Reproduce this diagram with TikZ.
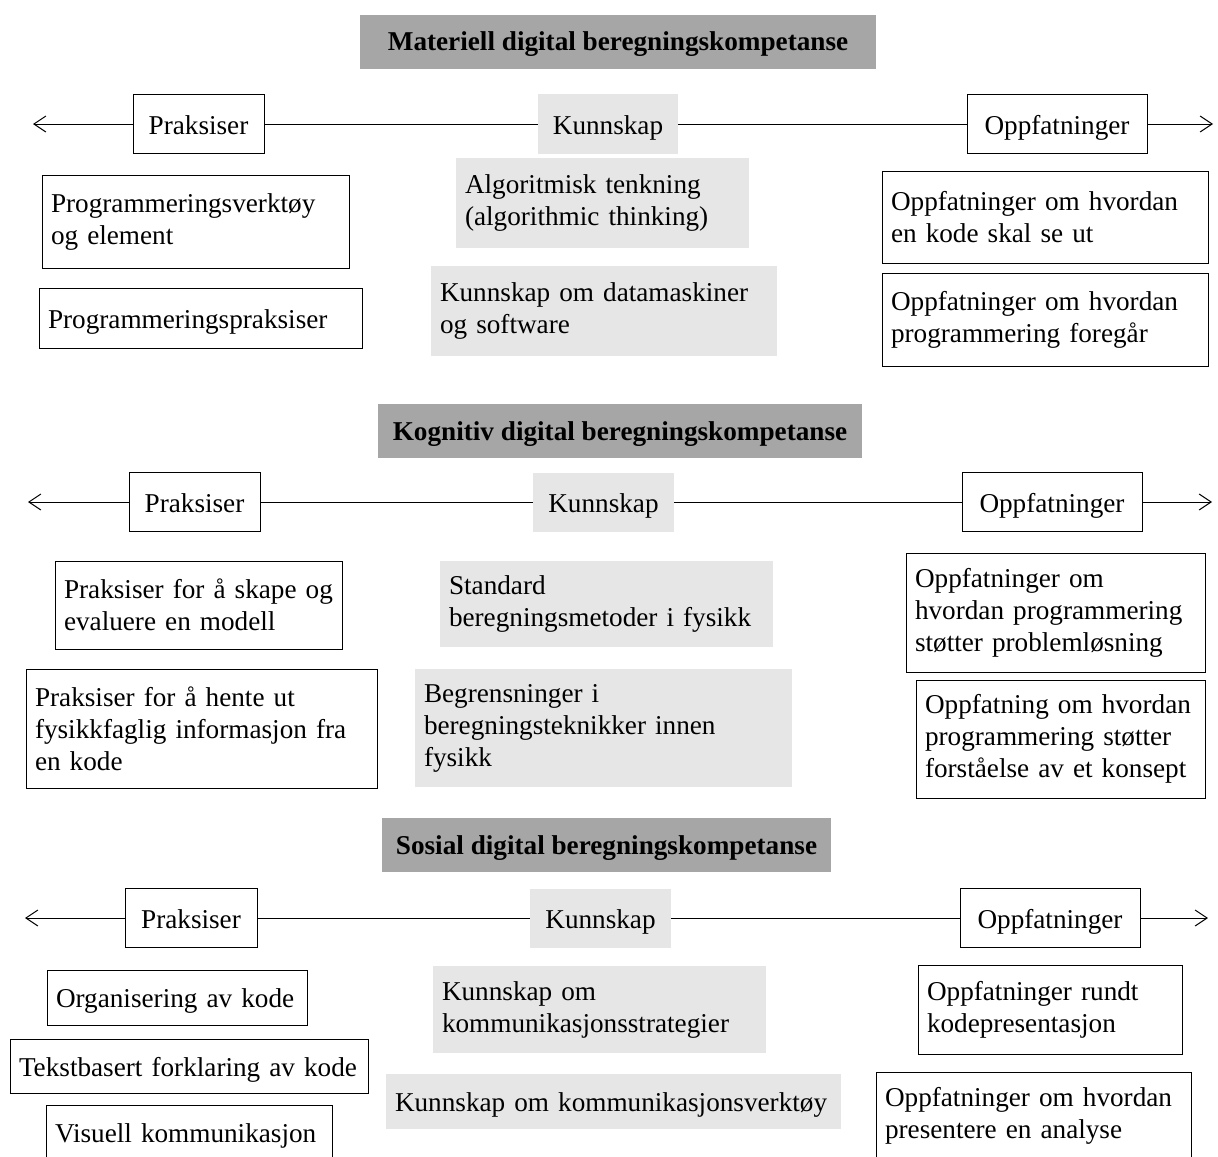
\documentclass[tikz,border=0pt]{standalone}
\usepackage{fontspec}
\setmainfont{Liberation Serif}
\usetikzlibrary{arrows.meta}
\definecolor{titlegray}{HTML}{A6A6A6}
\definecolor{kgray}{HTML}{E6E6E6}
\tikzset{
  txt/.style={font=\fontsize{13.6pt}{16pt}\selectfont, inner sep=0pt},
  oneline/.style={text height=11pt, text depth=1pt},
  head/.style={txt, oneline, draw, line width=0.5pt, minimum height=29.5pt},
  kuhead/.style={txt, oneline, fill=kgray, minimum height=29.5pt},
  titlebox/.style={fill=titlegray, inner sep=0pt, font=\fontsize{13.6pt}{16pt}\selectfont\bfseries, text height=10.5pt, text depth=1.5pt, minimum height=27pt},
  obox/.style={txt, draw, line width=0.5pt, align=left, inner xsep=4.5pt},
  kbox/.style={txt, fill=kgray, align=left, inner xsep=4.5pt},
  axis/.style={line width=0.5pt},
  tip/.style={-{Straight Barb[length=6pt,width=8pt]}}
}
\begin{document}
\begin{tikzpicture}[x=0.5pt,y=-0.5pt]
\useasboundingbox (0,0) rectangle (1218,1156);

% Materiell
\node[titlebox, minimum width=258pt] (t1) at (618,42) {Materiell digital beregningskompetanse};
\node[head, minimum width=65.5pt] (p1) at (198.5,124) {Praksiser};
\node[kuhead, minimum width=70pt] (k1) at (608,124) {Kunnskap};
\node[head, minimum width=90pt] (o1) at (1057,124) {Oppfatninger};
\coordinate (l1) at (33,124);
\coordinate (r1) at (1213,124);
\draw[axis,tip] (p1) -- (l1);
\draw[axis] (p1) -- (k1) -- (o1);
\draw[axis,tip] (o1) -- (r1);
\node[obox, text width=144.5pt, minimum height=46.5pt] (p1a) at (195.5,221.5) {Programmeringsverktøy\\og element};
\node[obox, oneline, text width=152.5pt, minimum height=30pt] (p1b) at (200.5,318) {Programmeringspraksiser};
\node[kbox, text width=137.5pt, minimum height=45pt] (k1a) at (602.5,203) {Algoritmisk tenkning\\(algorithmic thinking)};
\node[kbox, text width=164pt, minimum height=45pt] (k1b) at (604,311) {Kunnskap om datamaskiner\\og software};
\node[obox, text width=154pt, minimum height=46pt] (o1a) at (1045,217) {Oppfatninger om hvordan\\en kode skal se ut};
\node[obox, text width=154pt, minimum height=46.5pt] (o1b) at (1045,319.5) {Oppfatninger om hvordan\\programmering foregår};

% Kognitiv
\node[titlebox, minimum width=242pt] (t2) at (620,431) {Kognitiv digital beregningskompetanse};
\node[head, minimum width=65.5pt] (p2) at (194.5,502) {Praksiser};
\node[kuhead, minimum width=70.5pt] (k2) at (603.5,502) {Kunnskap};
\node[head, minimum width=90pt] (o2) at (1052,502) {Oppfatninger};
\coordinate (l2) at (28,502);
\coordinate (r2) at (1212,502);
\draw[axis,tip] (p2) -- (l2);
\draw[axis] (p2) -- (k2) -- (o2);
\draw[axis,tip] (o2) -- (r2);
\node[obox, text width=134.5pt, minimum height=44pt] (p2a) at (198.5,605) {Praksiser for å skape og\\evaluere en modell};
\node[obox, text width=166.5pt, minimum height=59.5pt] (p2b) at (201.5,728.5) {Praksiser for å hente ut\\fysikkfaglig informasjon fra\\en kode};
\node[kbox, text width=157.5pt, minimum height=43pt] (k2a) at (606.5,604) {Standard\\beregningsmetoder i fysikk};
\node[kbox, text width=179.5pt, minimum height=59pt] (k2b) at (603.5,728) {Begrensninger i\\beregningsteknikker innen\\fysikk};
\node[obox, text width=140.5pt, minimum height=59.5pt] (o2a) at (1055.5,612.5) {Oppfatninger om\\hvordan programmering\\støtter problemløsning};
\node[obox, text width=135.5pt, minimum height=59pt] (o2b) at (1060.5,739) {Oppfatning om hvordan\\programmering støtter\\forståelse av et konsept};

% Sosial
\node[titlebox, minimum width=224.5pt] (t3) at (606.5,845) {Sosial digital beregningskompetanse};
\node[head, minimum width=66pt] (p3) at (191,918) {Praksiser};
\node[kuhead, minimum width=70.5pt] (k3) at (600.5,918) {Kunnskap};
\node[head, minimum width=90pt] (o3) at (1050,918) {Oppfatninger};
\coordinate (l3) at (25,918);
\coordinate (r3) at (1208,918);
\draw[axis,tip] (p3) -- (l3);
\draw[axis] (p3) -- (k3) -- (o3);
\draw[axis,tip] (o3) -- (r3);
\node[obox, oneline, text width=121pt, minimum height=27.5pt] (p3a) at (177,997.5) {Organisering av kode};
\node[obox, oneline, text width=170pt, minimum height=27pt] (p3b) at (189,1066) {Tekstbasert forklaring av kode};
\node[obox, oneline, text width=134pt, minimum height=27.5pt] (p3c) at (189,1132.5) {Visuell kommunikasjon};
\node[kbox, text width=157.5pt, minimum height=43.5pt] (k3a) at (599.5,1009.5) {Kunnskap om\\kommunikasjonsstrategier};
\node[kbox, oneline, text width=218.5pt, minimum height=27.5pt] (k3b) at (613.5,1101.5) {Kunnskap om kommunikasjonsverktøy};
\node[obox, text width=123pt, minimum height=44.5pt] (o3a) at (1050,1009.5) {Oppfatninger rundt\\kodepresentasjon};
\node[obox, text width=148.5pt, minimum height=44pt] (o3b) at (1033.5,1116) {Oppfatninger om hvordan\\presentere en analyse};
\end{tikzpicture}
\end{document}
